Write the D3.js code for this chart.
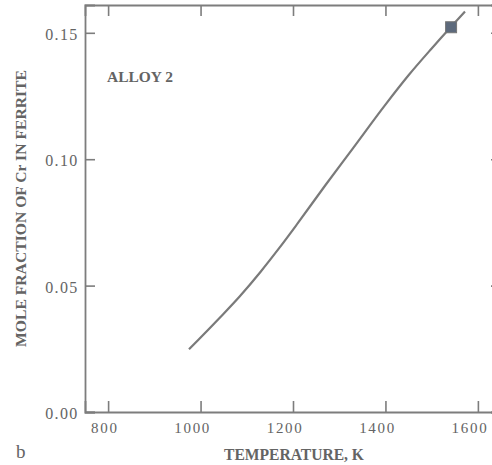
<!DOCTYPE html>
<html>
<head>
<meta charset="utf-8">
<script src="https://cdn.jsdelivr.net/npm/d3@7"></script>
<style>
  html, body { margin: 0; padding: 0; background: #fff; }
  svg { display: block; }
  text { font-family: "Liberation Serif", "DejaVu Serif", serif; fill: #646464; }
</style>
</head>
<body>
<svg id="chart" width="492" height="465"></svg>
<script>
// Equilibrium Cr content of ferrite vs temperature, alloy 2
const temperatureK = [975, 1040, 1085, 1130, 1170, 1210, 1270, 1330, 1400, 1450, 1500, 1540, 1572];
const moleFractionCr = [0.0248, 0.0370, 0.0458, 0.0555, 0.0648, 0.0746, 0.0897, 0.1044, 0.1216, 0.1332, 0.1438, 0.1520, 0.1584];
// Measured point
const markerT = [1542];
const markerX = [0.1522];
const xTicks = [800, 1000, 1200, 1400, 1600];
const yTicks = [0.00, 0.05, 0.10, 0.15];

const svg = d3.select("#chart");
const x = d3.scaleLinear().domain([750, 1650]).range([85, 501]);
const y = d3.scaleLinear().domain([0, 0.161]).range([412, 5]);

const axisColor = "#7d7d7d";

// Frame axes with inward ticks
const gBottom = svg.append("g").attr("transform", "translate(0,412)")
  .call(d3.axisTop(x).tickValues(xTicks).tickSize(11).tickFormat(""));
const gTop = svg.append("g").attr("transform", "translate(0,5)")
  .call(d3.axisBottom(x).tickValues(xTicks).tickSize(11).tickFormat(""));
const gLeft = svg.append("g").attr("transform", "translate(85,0)")
  .call(d3.axisRight(y).tickValues(yTicks).tickSize(10).tickFormat(""));
const gRight = svg.append("g").attr("transform", "translate(501,0)")
  .call(d3.axisLeft(y).tickValues(yTicks).tickSize(10).tickFormat(""));
[gBottom, gTop, gLeft, gRight].forEach(g => {
  g.select(".domain").attr("stroke", axisColor).attr("stroke-width", 1.8);
  g.selectAll(".tick line").attr("stroke", axisColor).attr("stroke-width", 1.6);
});

// Tick labels
svg.append("g").selectAll("text").data(xTicks).join("text")
  .attr("x", d => x(d) + 10.5).attr("y", 432.5)
  .attr("text-anchor", "end")
  .attr("font-size", 15).attr("letter-spacing", 1.7)
  .text(d => d);
svg.append("g").selectAll("text").data(yTicks).join("text")
  .attr("x", 78.5).attr("y", d => y(d) + 7)
  .attr("text-anchor", "end")
  .attr("font-size", 16).attr("letter-spacing", 1.3)
  .text(d => d3.format(".2f")(d));

// Axis titles
svg.append("text")
  .attr("x", 224).attr("y", 460)
  .attr("font-size", 16).attr("font-weight", "bold")
  .attr("textLength", 140).attr("lengthAdjust", "spacingAndGlyphs")
  .text("TEMPERATURE, K");
svg.append("text")
  .attr("transform", "translate(26,347) rotate(-90)")
  .attr("font-size", 15).attr("font-weight", "bold")
  .attr("textLength", 277).attr("lengthAdjust", "spacingAndGlyphs")
  .text("MOLE FRACTION OF Cr IN FERRITE");
svg.append("text")
  .attr("x", 107).attr("y", 82)
  .attr("font-size", 15).attr("font-weight", "bold")
  .attr("textLength", 66).attr("lengthAdjust", "spacingAndGlyphs")
  .text("ALLOY 2");
svg.append("text")
  .attr("x", 16).attr("y", 458)
  .attr("font-size", 19)
  .attr("font-family", "DejaVu Sans, sans-serif")
  .text("b");

// Curve
const line = d3.line()
  .x((d, i) => x(temperatureK[i]))
  .y(d => y(d))
  .curve(d3.curveMonotoneX);
svg.append("path")
  .datum(moleFractionCr)
  .attr("d", line)
  .attr("fill", "none")
  .attr("stroke", "#7a7a7a")
  .attr("stroke-width", 2.2);

// Square marker
svg.append("g").selectAll("rect").data(markerT).join("rect")
  .attr("x", (d, i) => x(d) - 5.5)
  .attr("y", (d, i) => y(markerX[i]) - 5.5)
  .attr("width", 11).attr("height", 11)
  .attr("fill", "#5d6a7c")
  .attr("stroke", "#777").attr("stroke-width", 1);
</script>
</body>
</html>
